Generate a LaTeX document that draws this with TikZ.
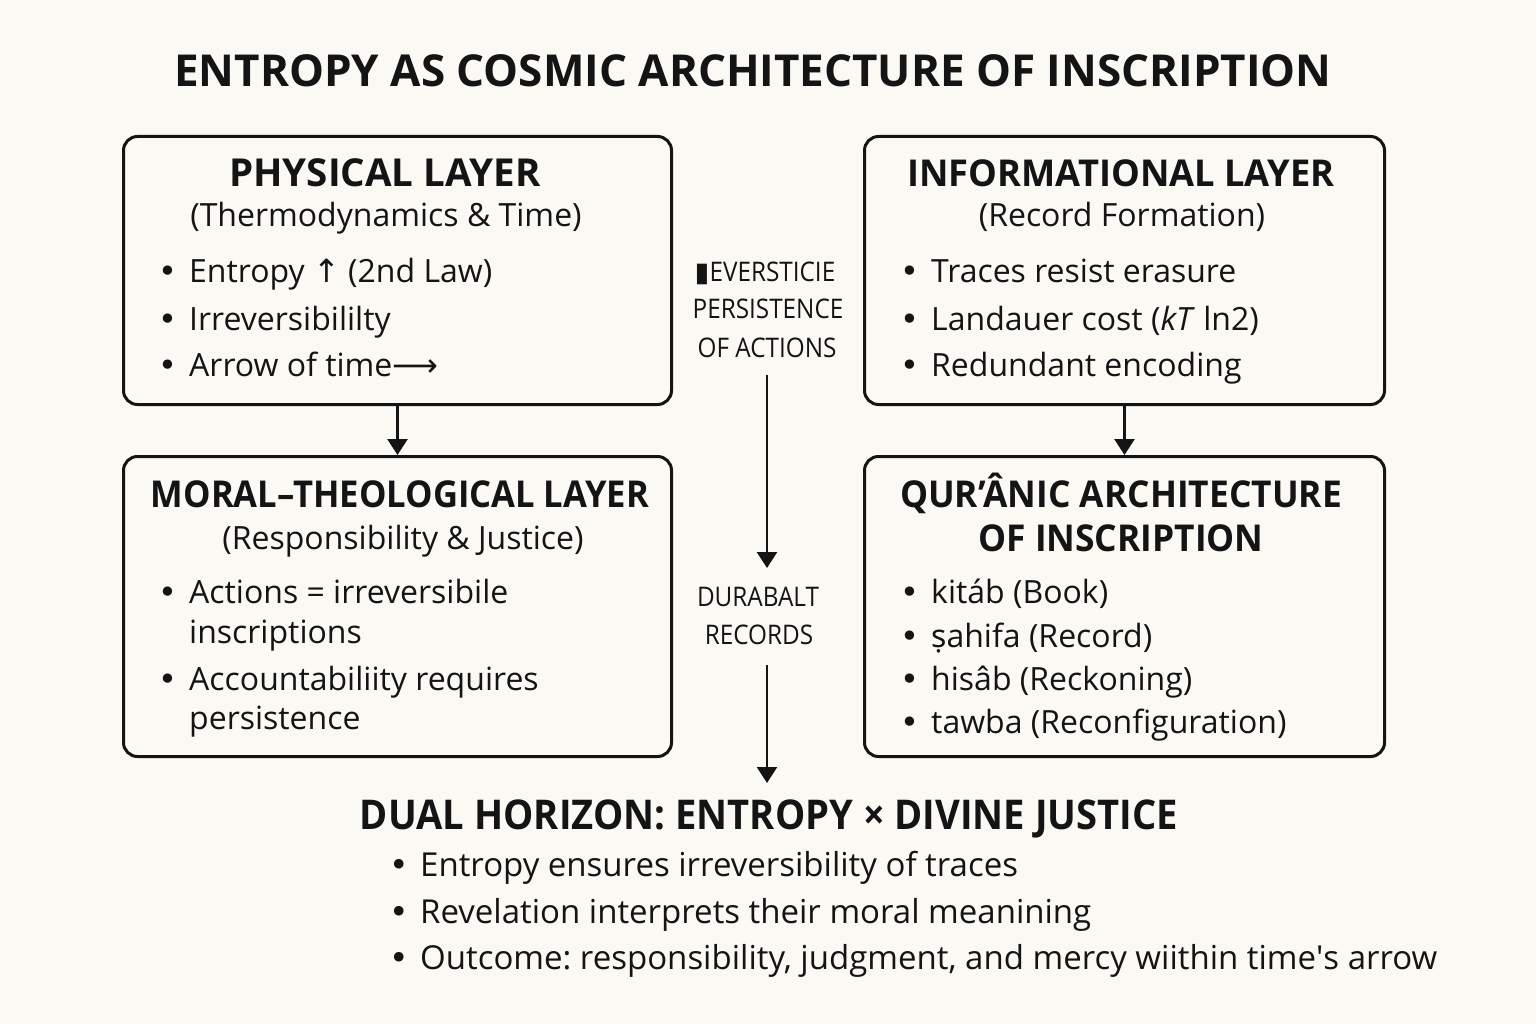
\documentclass[tikz,border=0pt]{standalone}
\usepackage{fontspec}
\setmainfont{Open Sans}
\newfontfamily\symf{DejaVu Sans}
\newfontfamily\nsf{Noto Sans}
\newfontfamily\condf[FakeStretch=0.93]{Open Sans}
\newfontfamily\midf[FakeStretch=0.9]{Open Sans}
\usetikzlibrary{arrows.meta}
\definecolor{bg}{HTML}{FBF9F4}
\definecolor{ink}{HTML}{141414}
\newcommand{\bul}[1]{\makebox[31pt][l]{\symf•}#1}
\frenchspacing
\tikzset{
  layerbox/.style={draw=ink, line width=3pt, rounded corners=14pt, anchor=north west, inner sep=0pt},
  flow/.style={draw=ink, line width=2.6pt, -{Triangle[length=16pt,width=20pt]}},
  ttl/.style={anchor=base, inner sep=0pt, text=ink, font=\bfseries\fontsize{44}{50}\selectfont},
  hdr/.style={anchor=base, inner sep=0pt, text=ink, font=\bfseries\fontsize{37}{42}\selectfont},
  sub/.style={anchor=base, inner sep=0pt, text=ink, font=\fontsize{32}{38}\selectfont},
  itm/.style={anchor=base west, inner sep=0pt, text=ink, font=\fontsize{32}{38}\selectfont},
  mid/.style={anchor=base, inner sep=0pt, text=ink, font=\midf\fontsize{27}{30}\selectfont},
  btl/.style={anchor=base, inner sep=0pt, text=ink, font=\condf\bfseries\fontsize{41}{46}\selectfont},
  bit/.style={anchor=base west, inner sep=0pt, text=ink, font=\fontsize{33}{38}\selectfont},
}
\begin{document}
\begin{tikzpicture}[x=1pt,y=-1pt]
\fill[bg] (0,0) rectangle (1536,1024);
\useasboundingbox (0,0) rectangle (1536,1024);

% title
\node[ttl] (title) at (753,87) {ENTROPY AS COSMIC ARCHITECTURE OF INSCRIPTION};

% boxes
\node[layerbox, minimum width=548pt, minimum height=268pt] (phys) at (122,135) {};
\node[layerbox, minimum width=520pt, minimum height=268pt] (info) at (863,135) {};
\node[layerbox, minimum width=548pt, minimum height=300pt] (moral) at (122,455) {};
\node[layerbox, minimum width=520pt, minimum height=300pt] (quran) at (863,455) {};

% physical layer
\node[hdr, font=\bfseries\fontsize{38.5}{42}\selectfont] (physh) at (385,187) {PHYSICAL LAYER};
\node[sub] (physs) at (386,227) {(Thermodynamics \& Time)};
\node[itm] (phys1) at (158,283) {\bul{Entropy {\symf↑} (2nd Law)}};
\node[itm] (phys2) at (158,330) {\bul{Irreversibililty}};
\node[itm] (phys3) at (158,376) {\bul{Arrow of time{\symf⟶}}};

% informational layer
\node[hdr] (infoh) at (1121,187) {\scalebox{0.98}[1]{INFORMATIONAL LAYER}};
\node[sub] (infos) at (1122,227) {(Record Formation)};
\node[itm] (info1) at (900,283) {\bul{Traces resist erasure}};
\node[itm] (info2) at (900,330) {\bul{Landauer cost (\textit{kT} ln2)}};
\node[itm] (info3) at (900,376) {\bul{Redundant encoding}};

% moral layer
\node[hdr] (moralh) at (400,507) {\scalebox{0.935}[1]{MORAL–THEOLOGICAL LAYER}};
\node[sub] (morals) at (403,549) {(Responsibility \& Justice)};
\node[itm] (moral1) at (158,603) {\bul{Actions = irreversibile}};
\node[itm] (moral2) at (189,643) {inscriptions};
\node[itm] (moral3) at (158,690) {\bul{Accountabiliity requires}};
\node[itm] (moral4) at (189,729) {persistence};

% quranic layer
\node[hdr] (quranh1) at (1121,507) {\scalebox{0.955}[1]{QUR’ÂNIC ARCHITECTURE}};
\node[hdr] (quranh2) at (1121,551) {\scalebox{0.955}[1]{OF INSCRIPTION}};
\node[itm] (quran1) at (900,603) {\bul{kitáb (Book)}};
\node[itm] (quran2) at (900,647) {\bul{{\nsf ṣ}ahifa (Record)}};
\node[itm] (quran3) at (900,690) {\bul{hisâb (Reckoning)}};
\node[itm] (quran4) at (900,733) {\bul{tawba (Reconfiguration)}};

% middle labels
\node[mid] (mid1) at (765,281) {{\symf▮}EVERSTICIE};
\node[mid] (mid2) at (768,318) {PERSISTENCE};
\node[mid] (mid3) at (767,357) {OF ACTIONS};
\node[mid] (mid4) at (758,606) {DURABALT};
\node[mid] (mid5) at (759,644) {RECORDS};

\coordinate (ma) at (767,375);
\coordinate (mb) at (767,568);
\coordinate (mc) at (767,665);
\coordinate (md) at (767,783);

% arrows
\draw[flow] (phys.south) -- (moral.north);
\draw[flow] (info.south) -- (quran.north);
\draw[flow] (ma) -- (mb);
\draw[flow] (mc) -- (md);

% bottom
\node[btl] (dual) at (769,829) {DUAL HORIZON: ENTROPY × DIVINE JUSTICE};
\node[bit] (dual1) at (389,876) {\bul{Entropy ensures irreversibility of traces}};
\node[bit] (dual2) at (389,923) {\bul{Revelation interprets their moral meanining}};
\node[bit] (dual3) at (389,969) {\bul{Outcome: responsibility, judgment, and mercy wiithin time\textquotesingle s arrow}};
\end{tikzpicture}
\end{document}
